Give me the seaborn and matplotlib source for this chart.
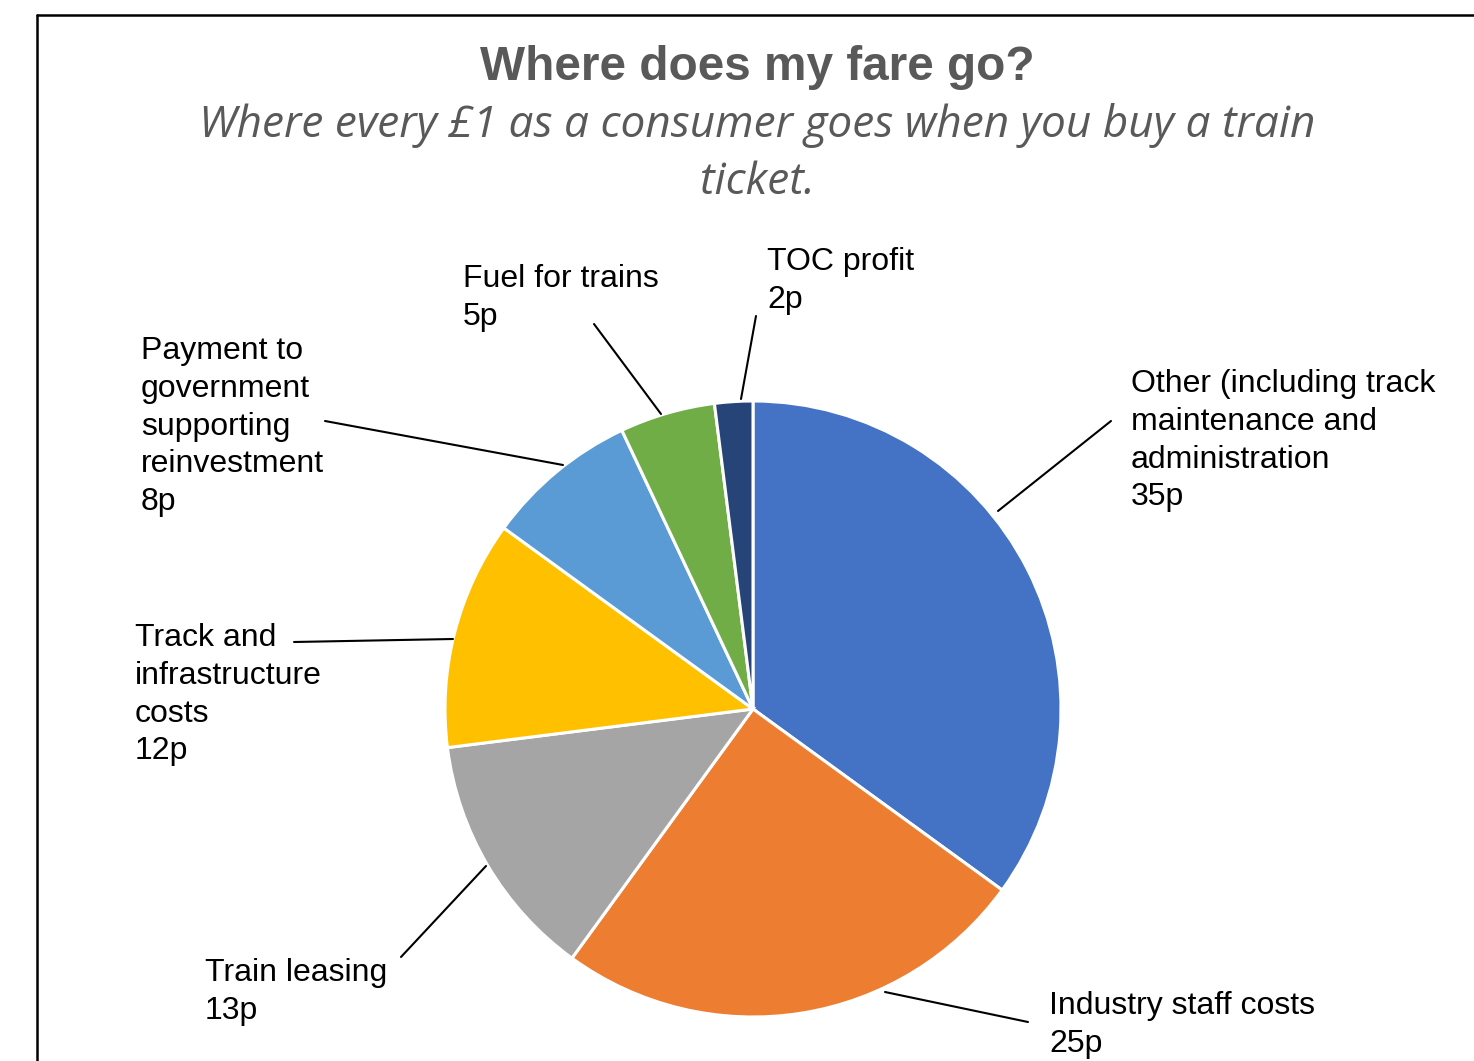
import matplotlib
matplotlib.use("Agg")
import matplotlib.pyplot as plt
import seaborn as sns
from matplotlib.lines import Line2D

sns.set_theme(style="white")
plt.rcParams['font.family'] = ['Liberation Sans', 'DejaVu Sans']

# ---- data ----
categories = ["Other (including track\nmaintenance and\nadministration",
              "Industry staff costs",
              "Train leasing",
              "Track and\ninfrastructure\ncosts",
              "Payment to\ngovernment\nsupporting\nreinvestment",
              "Fuel for trains",
              "TOC profit"]
values = [35, 25, 13, 12, 8, 5, 2]
colors = ["#4472C4", "#ED7D31", "#A5A5A5", "#FFC000", "#5B9BD5", "#70AD47", "#264478"]
title = "Where does my fare go?"
subtitle = "Where every £1 as a consumer goes when you buy a train\nticket."

# ---- layout (pixel space, y from top) ----
W, H = 1474, 1061
center_px = (753, 709)
radius_px = 308
label_pos = [(1131, 369), (1049, 991), (205, 958), (135, 623), (141, 336), (463, 264), (767, 247)]
leader = [((998, 511), (1111, 421)),
          ((885, 992), (1028, 1022)),
          ((486, 866), (401, 957)),
          ((453, 639), (294, 642)),
          ((563, 465), (325, 421)),
          ((661, 414), (594, 324)),
          ((741, 399), (756, 316))]

fig = plt.figure(figsize=(W / 100, H / 100), dpi=100)
ax = fig.add_axes([0, 0, 1, 1])

def fy(y):
    return H - y

ax.pie(values, colors=colors, startangle=90, counterclock=False,
       center=(center_px[0], fy(center_px[1])), radius=radius_px,
       wedgeprops=dict(edgecolor="white", linewidth=2.2), frame=False)
ax.set_xlim(0, W)
ax.set_ylim(0, H)
ax.set_aspect("equal")
ax.axis("off")

for cat, v, (lx, ly), ((x0, y0), (x1, y1)) in zip(categories, values, label_pos, leader):
    ax.text(lx, fy(ly), f"{cat}\n{v}p", ha="left", va="top", fontsize=23,
            color="black", linespacing=1.34)
    ax.add_line(Line2D([x0, x1], [fy(y0), fy(y1)], color="black", lw=1.5))

# title and subtitle
fig.text(757 / W, 1 - 68 / H, title, ha="center", va="center", fontsize=34.4,
         fontweight="bold", color="#595959")
fig.text(757 / W, 1 - 154 / H, subtitle, ha="center", va="center", fontsize=31.8,
         style="italic", color="#595959", family=["Open Sans", "DejaVu Sans"],
         linespacing=1.4)

# frame
fig.add_artist(Line2D([37 / W, 37 / W], [0, 1 - 15 / H], color="black", lw=1.8,
                      transform=fig.transFigure))
fig.add_artist(Line2D([37 / W, 1], [1 - 15 / H, 1 - 15 / H], color="black", lw=1.8,
                      transform=fig.transFigure))

fig.savefig("out.png", dpi=100, facecolor="white")
